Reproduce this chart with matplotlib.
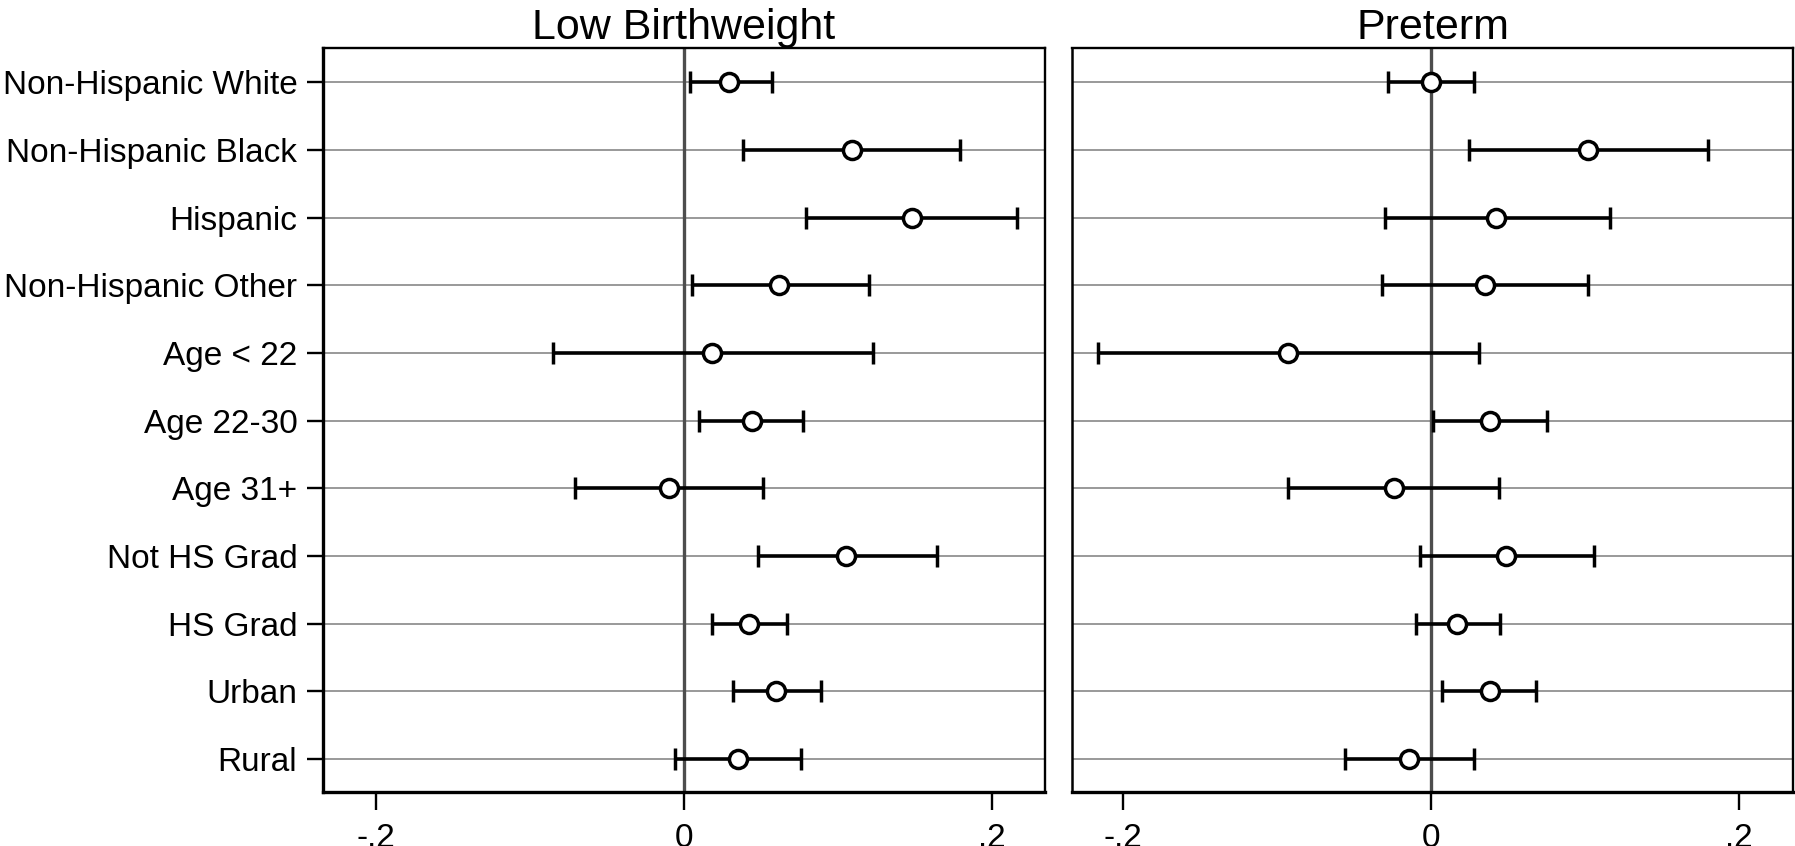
import matplotlib
matplotlib.use("Agg")
import matplotlib.pyplot as plt
from matplotlib.ticker import FixedLocator

plt.rcParams['font.family'] = ['Liberation Sans', 'DejaVu Sans']

categories = ["Non-Hispanic White", "Non-Hispanic Black", "Hispanic", "Non-Hispanic Other",
              "Age < 22", "Age 22-30", "Age 31+", "Not HS Grad", "HS Grad", "Urban", "Rural"]

lbw_est = [0.029, 0.109, 0.148, 0.062, 0.018, 0.044, -0.010, 0.105, 0.042, 0.060, 0.035]
lbw_lo  = [0.004, 0.038, 0.079, 0.005, -0.085, 0.010, -0.071, 0.048, 0.018, 0.032, -0.006]
lbw_hi  = [0.057, 0.179, 0.216, 0.120, 0.123, 0.077, 0.051, 0.164, 0.067, 0.089, 0.076]

pre_est = [0.000, 0.102, 0.042, 0.035, -0.093, 0.038, -0.024, 0.049, 0.017, 0.038, -0.014]
pre_lo  = [-0.028, 0.025, -0.030, -0.032, -0.216, 0.001, -0.093, -0.007, -0.010, 0.007, -0.056]
pre_hi  = [0.028, 0.180, 0.116, 0.102, 0.031, 0.075, 0.044, 0.106, 0.045, 0.068, 0.028]

titles = ["Low Birthweight", "Preterm"]
xticks = [-0.2, 0.0, 0.2]
xticklabels = ["-.2", "0", ".2"]

W, H = 1795, 846
fig = plt.figure(figsize=(W / 100, H / 100), dpi=100)

panels = [
    (titles[0], lbw_est, lbw_lo, lbw_hi, (323, 1045), (-0.2344, 0.2344)),
    (titles[1], pre_est, pre_lo, pre_hi, (1072, 1793), (-0.233, 0.235)),
]
ypos = list(range(1, len(categories) + 1))
top_px, bot_px = 48, 792

for i, (title, est, lo, hi, (x0, x1), xlim) in enumerate(panels):
    ax = fig.add_axes([x0 / W, (H - bot_px) / H, (x1 - x0) / W, (bot_px - top_px) / H])
    ax.set_xlim(*xlim)
    ax.set_ylim(11.49, 0.49)
    for y in ypos:
        ax.axhline(y, color='#878787', lw=1.2, zorder=1)
    ax.axvline(0, color='#4d4d4d', lw=2.4, zorder=2)
    xerr = [[e - l for e, l in zip(est, lo)], [h - e for e, h in zip(est, hi)]]
    ax.errorbar(est, ypos, xerr=xerr, fmt='o', color='black', ecolor='black',
                elinewidth=2.6, capsize=7.9, capthick=2.6, markersize=13,
                markerfacecolor='white', markeredgecolor='black', markeredgewidth=2.5,
                zorder=3)
    ax.set_title(title, fontsize=31, pad=6)
    ax.xaxis.set_major_locator(FixedLocator(xticks))
    ax.set_xticklabels(xticklabels)
    ax.tick_params(axis='x', labelsize=24, length=13, width=1.7, pad=9, direction='out')
    ax.set_yticks(ypos)
    if i == 0:
        ax.set_yticklabels(categories)
        ax.tick_params(axis='y', labelsize=24, length=11.5, width=1.7, pad=7, direction='out')
    else:
        ax.set_yticklabels([])
        ax.tick_params(axis='y', length=0)
    for s in ['top', 'right']:
        ax.spines[s].set_linewidth(1.7)
    ax.spines['left'].set_linewidth(2.4 if i == 0 else 1.8)
    ax.spines['bottom'].set_linewidth(2.4)

fig.savefig("out.png", dpi=100)
